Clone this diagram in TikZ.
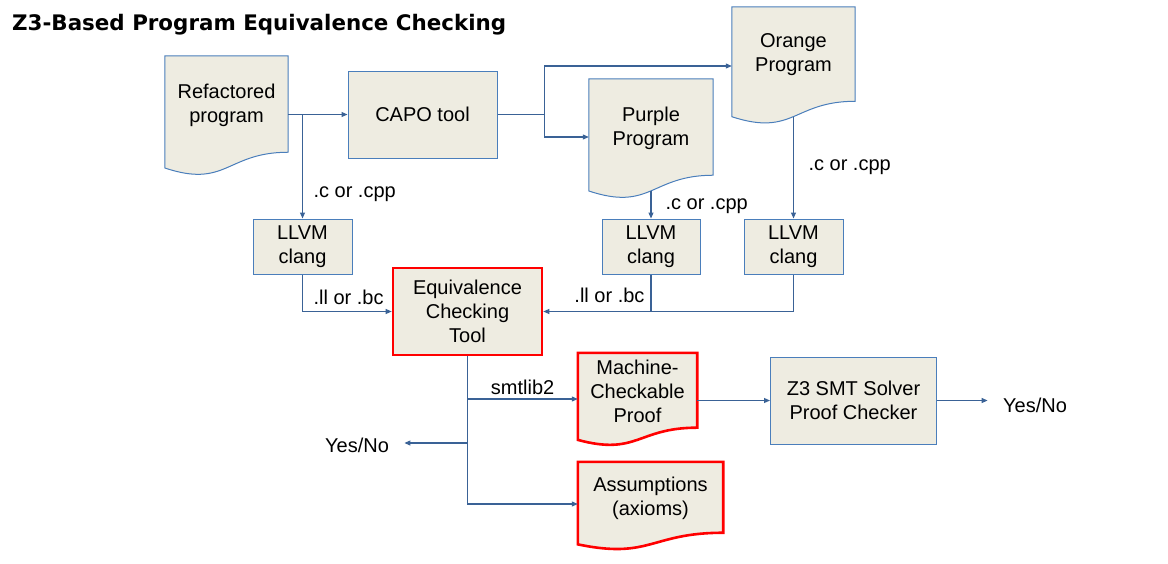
\documentclass[tikz,border=0pt]{standalone}
\usepackage{fontspec}
\setmainfont{Liberation Sans}
\newfontfamily\titlefont{DejaVu Sans}
\usepackage{xcolor}
\usepackage{tikz}
\usetikzlibrary{calc,backgrounds,positioning,arrows.meta}

\definecolor{boxfill}{HTML}{EEECE1}
\definecolor{boxline}{HTML}{4A7EBB}
\definecolor{connline}{HTML}{3A6296}

% wavy bottom of a document node, drawn behind its text
\newcommand{\docwave}[2]{%
  \begin{pgfonlayer}{background}
  \draw[#2] (#1.north west) -- (#1.north east)
     -- ($(#1.north east)!0.98!(#1.south east)$)
     .. controls ($(#1.north)!0.98!(#1.south)$) and ($(#1.north)!1.35!(#1.south)$)
     .. ($(#1.north west)!1.14!(#1.south west)$) -- cycle;
  \end{pgfonlayer}
  \coordinate (#1 bot) at ($(#1.north)!1.138!(#1.south)$);
}

\begin{document}
\begin{tikzpicture}[x=1pt,y=-1pt,font=\fontsize{20}{24}\selectfont]

   \tikzstyle{box}    =[draw=boxline,fill=boxfill,line width=1pt,align=center]
   \tikzstyle{redbox} =[draw=red,fill=boxfill,line width=2.6pt,align=center]
   \tikzstyle{docnode}=[draw=none,align=center]
   \tikzstyle{docline}=[draw=boxline,fill=boxfill,line width=1pt]
   \tikzstyle{docred} =[draw=red,fill=boxfill,line width=2.6pt]
   \tikzstyle{conn}   =[draw=connline,line width=1.1pt,-{Triangle[length=6pt,width=5pt]}]
   \tikzstyle{line}   =[draw=connline,line width=1.1pt]

   \useasboundingbox (0,0) rectangle (1168,563);

   \node[anchor=base west,inner sep=0pt,font=\titlefont\bfseries\fontsize{21.4}{25}\selectfont]
     (title) at (12,30) {Z3-Based Program Equivalence Checking};

   % documents
   \node[docnode,minimum width=123,minimum height=98] (refac) at (226.5,105) {Refactored\\program};
   \node[docnode,minimum width=123,minimum height=96] (orange) at (793.5,55) {Orange\\Program};
   \node[docnode,minimum width=124,minimum height=98] (purple) at (651,128) {Purple\\Program};
   \node[docnode,minimum width=119,minimum height=76] (machine) at (637.5,391) {Machine-\\Checkable\\Proof};
   \node[docnode,minimum width=145,minimum height=72] (assump) at (650.5,498) {Assumptions\\(axioms)};

   \docwave{refac}{docline}
   \docwave{orange}{docline}
   \docwave{purple}{docline}
   \docwave{machine}{docred}
   \docwave{assump}{docred}

   % tools
   \node[box,minimum width=149,minimum height=87] (capo) at (422.5,114.5) {CAPO tool};
   \node[box,minimum width=99,minimum height=55] (llvm1) at (302.5,246.5) {LLVM\\clang};
   \node[box,minimum width=98,minimum height=55] (llvm2) at (651,246.5) {LLVM\\clang};
   \node[box,minimum width=99,minimum height=55] (llvm3) at (793.5,246.5) {LLVM\\clang};
   \node[redbox,minimum width=149,minimum height=87] (equiv) at (467.5,311.5) {Equivalence\\Checking\\Tool};
   \node[box,minimum width=166,minimum height=87] (z3) at (853.5,400.5) {Z3 SMT Solver\\Proof Checker};

   \node (yn1) at (357,445) {Yes/No};
   \node (yn2) at (1035,405) {Yes/No};

   % source side
   \draw[conn] (refac.east |- capo.west) -- (capo.west);
   \draw[conn] (llvm1 |- capo.west) -- (llvm1.north);
   \node[anchor=west] at (310,194) {.c or .cpp};

   \coordinate (split) at ([xshift=47]capo.east);
   \draw[conn] (capo.east) -- (split) |- ([yshift=-11]orange.west);
   \draw[conn] (split) |- ([yshift=-9]purple.west);

   \draw[conn] (purple bot) -- (llvm2.north);
   \node[anchor=west] at (662,206) {.c or .cpp};
   \draw[conn] (orange bot) -- (llvm3.north);
   \node[anchor=west] at (805,167) {.c or .cpp};

   % into the checker
   \draw[conn] (llvm1.south) |- (equiv.west);
   \node[anchor=west] at (310,297) {.ll or .bc};
   \draw[conn] (llvm3.south) |- (equiv.east);
   \draw[line] (llvm2.south) -- (llvm2 |- equiv.east);
   \node[anchor=east] at (648,295) {.ll or .bc};

   % out of the checker
   \coordinate (mIn) at ([yshift=-8]machine.west);
   \coordinate (aIn) at ([yshift=-6]assump.west);
   \coordinate (yIn) at ([xshift=12,yshift=2]yn1.east);
   \coordinate (yOut) at ([xshift=-12]yn2.west |- z3.east);
   \draw[conn] (equiv.south) |- (aIn);
   \draw[conn] (equiv.south |- mIn) -- (mIn) node[midway,above] {smtlib2};
   \draw[conn] (equiv.south |- yIn) -- (yIn);

   \draw[conn] (machine.east |- z3.west) -- (z3.west);
   \draw[conn] (z3.east) -- (yOut);

\end{tikzpicture}
\end{document}
